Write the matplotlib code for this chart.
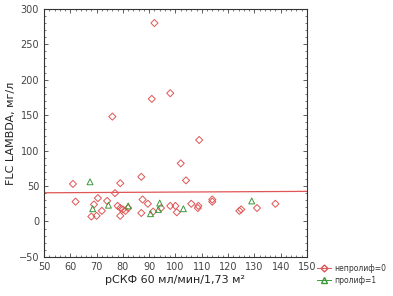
import matplotlib
matplotlib.use("Agg")
import matplotlib.pyplot as plt
from matplotlib.lines import Line2D
import numpy as np

# непролиф=0 (red diamonds)
x0 = [92, 91, 98, 76, 109, 102, 104, 61, 87, 79, 77, 62, 70.5, 69, 74, 72, 68, 70,
      78, 79, 79, 80, 81, 82, 87.5, 89.5, 87, 91.5, 94.5, 98, 100, 100.5, 106, 108.5,
      108.7, 114, 114, 124.3, 125, 131, 138]
y0 = [280, 173, 181, 148, 115, 82, 58, 53, 63, 54, 40, 28, 33, 24, 29, 15, 7, 8,
      22, 19, 8, 17, 15, 19, 31, 25, 12, 14, 19, 22, 22, 13, 25, 19,
      22, 31, 28, 15, 17, 19, 25]
# пролиф=1 (green triangles)
x1 = [67.5, 68.5, 74.5, 82, 90.5, 94, 93.5, 103, 129]
y1 = [56, 18, 23, 22, 11, 26, 17, 18, 29]
# regression line endpoints (values)
reg_x = [50, 150]
reg_y = [40.5, 42.5]

x_ticks = list(range(50, 151, 10))
y_ticks = list(range(-50, 301, 50))

red = "#e05555"
green = "#3a9a3a"

fig = plt.figure(figsize=(3.93, 2.96), dpi=100)
ax = fig.add_axes([0.112, 0.132, 0.669, 0.838])

ax.plot(reg_x, reg_y, color=red, lw=0.9, zorder=2)
ax.scatter(x0, y0, marker="D", s=13, facecolors="none", edgecolors=red, linewidths=0.7, zorder=3)
ax.scatter(x1, y1, marker="^", s=18, facecolors="none", edgecolors=green, linewidths=0.7, zorder=3)

ax.set_xlim(50, 150)
ax.set_ylim(-50, 300)
ax.set_xticks(x_ticks)
ax.set_yticks(y_ticks)
ax.minorticks_on()
ax.tick_params(which="both", direction="in", top=True, right=True, labelsize=7,
               labelcolor="#444444", color="#444444")
ax.tick_params(which="major", length=3, width=0.6)
ax.tick_params(which="minor", length=1.5, width=0.5)
for s in ax.spines.values():
    s.set_color("#333333")
    s.set_linewidth(0.8)

ax.set_xlabel("рСКФ 60 мл/мин/1,73 м²", fontsize=8, color="#222222", labelpad=2)
ax.set_ylabel("FLC LAMBDA, мг/л", fontsize=8, color="#222222", labelpad=2)

h0 = Line2D([0], [0], color=red, marker="D", markersize=3.5, markerfacecolor="none", lw=0.7)
h1 = Line2D([0], [0], color=green, marker="^", markersize=4, markerfacecolor="none", lw=0.7)
fig.legend([h0, h1], ["непролиф=0", "пролиф=1"], loc="lower left",
           bbox_to_anchor=(0.79, 0.015), frameon=False, fontsize=5.5,
           handlelength=1.8, handletextpad=0.4, labelspacing=0.4, labelcolor="#333333")

fig.savefig("out.png", dpi=100)
